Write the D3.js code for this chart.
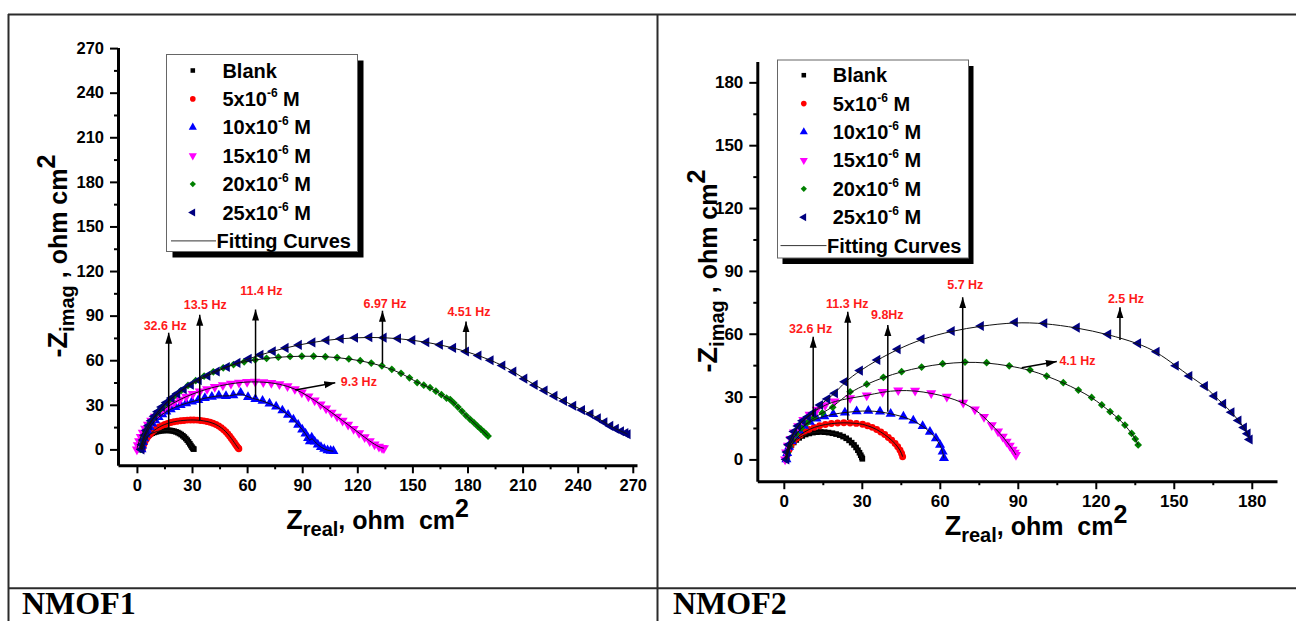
<!DOCTYPE html>
<html><head><meta charset="utf-8">
<script src="https://cdn.jsdelivr.net/npm/d3@7"></script>
<style>
html,body{margin:0;padding:0;background:#fff;}
svg{display:block;}
text{font-family:Arial,"Liberation Sans",sans-serif;}
text.panel{font-family:"Liberation Serif","Times New Roman",serif;}
</style></head><body>
<svg id="c" width="1296" height="621"></svg>
<script>
// ---------------- DATA ----------------
const legendLabels = ["Blank","5x10","10x10","15x10","20x10","25x10"];
const legendHasExp = [false,true,true,true,true,true];
const fitLabel = "Fitting Curves";
const panelLabels = ["NMOF1","NMOF2"];

const xTicks1 = [0,30,60,90,120,150,180,210,240,270];
const yTicks1 = [0,30,60,90,120,150,180,210,240,270];
const xTicks2 = [0,30,60,90,120,150,180];
const yTicks2 = [0,30,60,90,120,150,180];

// NMOF1 (Zreal, -Zimag)
const n1_blank = [[1.5,0],[1.8,1.5],[2.2,3],[2.7,4.4],[3.3,5.7],[4,6.9],[4.8,7.9],[5.6,8.8],[6.5,9.6],[7.4,10.3],[8.3,10.9],[9.3,11.4],[10.3,11.8],[11.3,12.1],[12.3,12.4],[13.3,12.6],[14.3,12.7],[15.3,12.8],[16.3,12.8],[17.3,12.8],[18.3,12.7],[19.3,12.5],[20.3,12.2],[21.3,11.8],[22.3,11.3],[23.2,10.7],[24.1,10],[25,9.2],[25.8,8.3],[26.6,7.3],[27.4,6.2],[28.1,5],[28.8,3.8],[29.4,2.6],[30,1.5],[30.5,0.6],[31,0.2]];
const n1_5 = [[3,0],[3.3,1.8],[3.8,3.6],[4.4,5.3],[5.2,7],[6.1,8.6],[7.1,10.1],[8.2,11.5],[9.4,12.8],[10.7,14],[12.1,15],[13.6,16],[15.2,16.8],[16.8,17.5],[18.5,18.1],[20.2,18.6],[22,19],[23.8,19.3],[25.6,19.5],[27.4,19.7],[29.2,19.8],[31,19.8],[32.8,19.7],[34.6,19.5],[36.4,19.2],[38.1,18.8],[39.8,18.3],[41.4,17.6],[43,16.8],[44.5,15.8],[45.9,14.6],[47.2,13.3],[48.4,11.9],[49.5,10.4],[50.5,8.9],[51.4,7.4],[52.3,5.9],[53.1,4.5],[53.8,3.2],[54.5,2],[55.1,1],[55.5,0.4]];
const n1_10 = [[2.5,0],[2.8,2.5],[3.3,5],[4,7.5],[4.8,10],[5.8,12.5],[7,15],[8.4,17.4],[10,19.6],[11.8,21.7],[13.8,23.6],[16,25.4],[18.4,27],[21,28.5],[23.8,29.8],[26.8,31],[30,32.1],[33.4,33.2],[37,34.6],[40.8,35.3],[44.6,36.2],[48.5,35.8],[52.5,36.4],[56.5,38],[60.5,35.2],[64.5,33.9],[68.4,32.6],[72.2,30.9],[75.8,28.8],[79.2,26.2],[82.3,23.3],[85.2,20],[87.8,16.6],[90,13.4],[91.8,10.6],[93.2,7.6],[94.2,5.5],[95.2,8],[96.8,5.2],[98.5,3.2],[100.2,1.5],[102,0.3],[103.8,-0.6],[105.5,-1],[107,-1.2]];
const n1_15 = [[0,0],[0.5,2.8],[1.2,5.6],[2.1,8.4],[3.2,11.2],[4.5,14],[6,16.7],[7.8,19.4],[9.8,22],[12,24.5],[14.5,26.9],[17.2,29.2],[20.2,31.4],[23.4,33.5],[26.8,35.5],[30.4,37.3],[34.2,39],[38.2,40.6],[42.4,42],[46.8,43.2],[51.2,44.2],[55.6,44.9],[60,45.4],[64.4,45.5],[68.8,45.3],[73.2,44.8],[77.6,43.9],[82,42.5],[86,40.6],[89.8,38.3],[93.4,35.7],[96.8,33],[100,30.2],[103,27.5],[106,24.8],[109,22.1],[112,19.4],[115,16.6],[118,13.8],[121,11],[124,8.2],[126.8,5.6],[129.4,3.4],[131.8,1.8],[133.5,1],[134.5,0.8]];
const n1_20 = [[2,0],[2.4,3],[3,6],[3.8,9],[4.8,12],[6,15],[7.4,18],[9,21],[10.8,24],[12.8,27],[15,30],[17.6,33],[20.6,36.2],[24,39.6],[27.8,43],[32,46.2],[36.6,49.3],[41.6,52.2],[47,54.9],[52.6,57.1],[58.4,58.9],[64.4,60.3],[70.6,61.3],[77,62],[83.4,62.5],[89.8,62.7],[96.2,62.7],[102.6,62.4],[109,61.8],[115.4,60.9],[121.6,59.7],[127.6,58.1],[133.4,56.2],[138.8,53.9],[143.8,51.2],[148.4,48.2],[152.6,45],[156.2,43.2],[159.6,41.5],[162.8,39.2],[165.8,36.8],[168.6,34.5],[170.6,33.5],[172.6,31.2],[174.8,28.5],[177,25.6],[179.2,22.8],[181.4,20.2],[183.5,18],[185.5,15.6],[187.3,13.6],[188.9,11.8],[190.2,10.2],[191.2,9]];
const n1_25 = [[2.5,0],[2.9,3.2],[3.5,6.4],[4.3,9.6],[5.3,12.8],[6.5,16],[7.9,19.2],[9.5,22.3],[11.4,25.4],[13.6,28.5],[16.1,31.5],[18.9,34.5],[22,37.5],[25.5,40.5],[29.4,43.5],[33.7,46.5],[38.4,49.5],[43.5,52.4],[49,55.4],[54.8,58.2],[60.9,61],[67.3,63.6],[74,66],[81,68.3],[88.2,70.3],[95.6,72],[103.2,73.4],[111,74.5],[118.8,75.1],[126.6,75.4],[134.4,75.2],[142.2,74.6],[150,73.5],[157.6,72.1],[165,70.4],[172.2,68.3],[179.2,65.9],[186,63.2],[192.6,60],[199,56.5],[205,52.3],[211,47.6],[216.6,43.4],[222,39.6],[227.4,36],[232.6,32.6],[237.6,29.4],[242.4,26.5],[247,23.8],[251,21],[254.6,18.3],[257.8,15.8],[260.8,13.9],[263.6,12.2],[266,11],[267.2,10.2]];

// NMOF2
const n2_blank = [[1,0],[1.2,1.8],[1.6,3.6],[2.2,5.3],[2.9,6.8],[3.8,8.1],[4.8,9.3],[5.9,10.3],[7.1,11.2],[8.4,11.9],[9.8,12.4],[11.2,12.8],[12.7,13],[14.2,13.1],[15.7,13],[17.2,12.8],[18.7,12.5],[20.1,12.1],[21.5,11.6],[22.8,10.9],[24,10.1],[25.1,9.1],[26.1,8],[27,6.9],[27.8,5.7],[28.5,4.4],[29.1,3.2],[29.6,2],[30,1],[30.2,0.3]];
const n2_5 = [[1,0],[1.3,2.2],[1.9,4.4],[2.7,6.5],[3.7,8.4],[4.9,10.1],[6.3,11.7],[7.9,13.1],[9.7,14.3],[11.7,15.3],[13.8,16.1],[16,16.7],[18.3,17.1],[20.7,17.4],[23.1,17.5],[25.5,17.4],[27.9,17.2],[30.3,16.8],[32.2,16.1],[34,15.3],[35.7,14.3],[37.3,13.1],[38.8,11.9],[40.2,10.5],[41.5,9.1],[42.8,7.6],[43.8,6],[44.7,4.4],[45.3,2.8],[45.7,1.3]];
const n2_10 = [[1,0],[1.3,3],[2,6],[3,8.8],[4.3,11.4],[5.9,13.8],[7.8,16],[10,17.9],[12.6,19.5],[15.6,20.6],[19,21.6],[23.5,22.4],[28,23],[32.5,23.2],[37,22.8],[41.1,21.8],[46,20.4],[49.8,18.5],[53.4,15.9],[56.2,13.2],[58.5,10.1],[60.1,6.9],[61.1,3.7],[61.6,0.6]];
const n2_15 = [[0.5,0],[0.9,3.3],[1.6,6.6],[2.6,9.8],[3.9,12.9],[5.5,15.9],[7.5,18.8],[9.9,21.4],[12.7,23.8],[15.9,25.9],[19.5,27.7],[25.5,29.3],[31.9,30.5],[38,32.2],[44,33],[50.5,32.8],[56.7,31.6],[62.7,29.9],[69,27.1],[73.5,23.9],[77,20.3],[80,16.4],[82.4,13.4],[84.2,10.9],[85.7,8.5],[86.9,6.6],[88,4.7],[88.8,3.2],[89.3,2.1]];
const n2_20 = [[1,0],[1.4,3.2],[2.2,6.3],[3.3,9.3],[4.8,12.2],[6.7,14.9],[9,17.5],[11.6,19.9],[14.8,22.2],[18.8,24.9],[25.5,32.3],[31.9,35.9],[38.3,39.2],[45.3,41.9],[53,44.1],[61.1,45.7],[69.7,46.5],[78,46.2],[86.7,44.7],[94.7,42.7],[101.1,39.8],[107.5,36.6],[113.3,33.1],[118.4,29.6],[122.3,26],[125.5,22.8],[128.7,19.6],[131.2,16.4],[133.8,12.4],[135.2,9.8],[136.3,6.9]];
const n2_25 = [[1,0],[1.3,3.5],[1.9,7],[2.8,10.3],[4,13.3],[5.5,16],[7.3,18.4],[9.3,20.4],[11.3,22.2],[14,26],[16.8,28.8],[19.7,31.6],[23.5,37.1],[29.3,42.4],[36,47.5],[43.8,52.6],[53,57.5],[64.6,61.3],[75.8,63.7],[88.9,65.5],[100.2,65],[112.7,62.9],[124.8,59.7],[136.3,55.4],[143.4,51.4],[150.8,44.7],[156,39.8],[162,35],[165.6,30.3],[169,26.5],[172.2,22.5],[174.9,18.6],[177,15.2],[178.4,12.3],[179.2,9.5]];

// frequency annotations: label, arrow tail (x0,y0) -> head (x1,y1), text position (tx,ty), text anchor
const ann1 = [
  {t:"32.6 Hz", x0:17.3, y0:13, x1:17.3, y1:78.5, tx:15.4, ty:83.4, a:"middle"},
  {t:"13.5 Hz", x0:34.2, y0:19.5, x1:34.2, y1:90.6, tx:37.2, ty:97.3, a:"middle"},
  {t:"11.4 Hz", x0:64.6, y0:35, x1:64.6, y1:94.1, tx:67.8, ty:106.6, a:"middle"},
  {t:"6.97 Hz", x0:133.7, y0:57.5, x1:133.7, y1:93.3, tx:135.1, ty:98.4, a:"middle"},
  {t:"4.51 Hz", x0:179.2, y0:65, x1:179.2, y1:86.1, tx:180.8, ty:93, a:"middle"},
  {t:"9.3 Hz", x0:86.2, y0:40, x1:108, y1:44.8, tx:111, ty:45.8, a:"start"}
];
const ann2 = [
  {t:"32.6 Hz", x0:11.3, y0:20.4, x1:11.3, y1:58.6, tx:10.3, ty:62.3, a:"middle"},
  {t:"11.3 Hz", x0:24.6, y0:18.8, x1:24.6, y1:70.5, tx:24.4, ty:74.5, a:"middle"},
  {t:"9.8Hz", x0:40, y0:22.8, x1:40, y1:64.2, tx:39.8, ty:69, a:"middle"},
  {t:"5.7 Hz", x0:68.8, y0:26.8, x1:68.8, y1:77.4, tx:69.8, ty:83.3, a:"middle"},
  {t:"2.5 Hz", x0:129.3, y0:57, x1:129.3, y1:72.6, tx:131.6, ty:76.6, a:"middle"},
  {t:"4.1 Hz", x0:91.5, y0:43.8, x1:105, y1:46.7, tx:106, ty:47.1, a:"start"}
];

// ---------------- STYLE / LAYOUT ----------------
const COLORS = ["#000000","#ff0000","#0000ff","#ff00ff","#008000","#000080"];
const SYMS = ["square","circle","triUp","triDown","diamond","triLeft"];

const panels = [
  { series:[n1_blank,n1_5,n1_10,n1_15,n1_20,n1_25], ann:ann1,
    xDom:[-10.3,272.3], xRange:[118,637], yDom:[-10.7,270.4], yRange:[465.3,47.5],
    xTicks:xTicks1, yTicks:yTicks1, tickFont:16.5,
    legend:{x:166.5,y:54.5,w:191,h:197,sx:6,sy:6,mx:192.8,tx:222.4,row0:70.5,dy:28.4,lx0:171,lx1:216},
    xTitle:{x:377.6,y:529}, yTitle:{x:67,y:256},
    label:{x:22,y:614,t:panelLabels[0]} },
  { series:[n2_blank,n2_5,n2_10,n2_15,n2_20,n2_25], ann:ann2,
    xDom:[-10.2,189.7], xRange:[757.3,1277], yDom:[-10.4,190], yRange:[481.2,61.4],
    xTicks:xTicks2, yTicks:yTicks2, tickFont:17,
    legend:{x:777.5,y:60,w:191,h:198,sx:5,sy:6,mx:803.8,tx:832.7,row0:75.2,dy:28.4,lx0:780.5,lx1:826.5},
    xTitle:{x:1036,y:535}, yTitle:{x:717,y:271},
    label:{x:673,y:614,t:panelLabels[1]} }
];

const svg = d3.select("#c");

// page frame
const frame = svg.append("g").attr("stroke","#2b2b2b").attr("stroke-width",2);
frame.append("line").attr("x1",8).attr("x2",1296).attr("y1",14.5).attr("y2",14.5);
frame.append("line").attr("x1",8.5).attr("x2",8.5).attr("y1",14).attr("y2",621);
frame.append("line").attr("x1",657.5).attr("x2",657.5).attr("y1",14).attr("y2",621);
frame.append("line").attr("x1",8).attr("x2",1296).attr("y1",588.3).attr("y2",588.3);

// arrow marker
svg.append("defs").append("marker").attr("id","arr")
  .attr("markerUnits","userSpaceOnUse").attr("markerWidth",12).attr("markerHeight",8)
  .attr("refX",11).attr("refY",4).attr("orient","auto")
  .append("path").attr("d","M0,0.5 L11,4 L0,7.5 Z").attr("fill","#000");

function symPath(type, size){
  let s;
  if(type==="square") s=d3.symbolSquare;
  else if(type==="circle") s=d3.symbolCircle;
  else if(type==="diamond") s=d3.symbolSquare;
  else s=d3.symbolTriangle;
  return d3.symbol(s,size)();
}
function symRot(type){
  return type==="triDown"?180:type==="triLeft"?-90:type==="diamond"?45:0;
}
function symSize(type){
  return type==="square"?32:type==="circle"?38:type==="diamond"?30:44;
}

panels.forEach(p=>{
  const x = d3.scaleLinear().domain(p.xDom).range(p.xRange);
  const y = d3.scaleLinear().domain(p.yDom).range(p.yRange);
  const g = svg.append("g");

  // axes
  const minorX = d3.range(p.xTicks[0]+15, p.xTicks[p.xTicks.length-1], 30);
  const minorY = d3.range(p.yTicks[0]+15, p.yTicks[p.yTicks.length-1], 30);
  const y0 = p.yRange[0], x0 = p.xRange[0];

  const gxm = g.append("g").attr("transform",`translate(0,${y0})`)
    .call(d3.axisBottom(x).tickValues(minorX).tickSize(4).tickFormat("").tickSizeOuter(0));
  const gym = g.append("g").attr("transform",`translate(${x0},0)`)
    .call(d3.axisLeft(y).tickValues(minorY).tickSize(4).tickFormat("").tickSizeOuter(0));
  const gx = g.append("g").attr("transform",`translate(0,${y0})`)
    .call(d3.axisBottom(x).tickValues(p.xTicks).tickSize(8).tickPadding(6).tickSizeOuter(0));
  const gy = g.append("g").attr("transform",`translate(${x0},0)`)
    .call(d3.axisLeft(y).tickValues(p.yTicks).tickSize(8).tickPadding(6).tickSizeOuter(0));
  [gx,gy,gxm,gym].forEach(a=>{
    a.select(".domain").attr("stroke","#000").attr("stroke-width",3);
    a.selectAll(".tick line").attr("stroke","#000").attr("stroke-width",2);
    a.selectAll(".tick text").attr("fill","#000").attr("font-size",p.tickFont)
      .attr("font-weight","bold");
  });
  gxm.select(".domain").remove(); gym.select(".domain").remove();

  // data markers
  p.series.forEach((data,i)=>{
    const t = SYMS[i];
    const d = symPath(t, symSize(t)), r = symRot(t);
    g.append("g").selectAll("path").data(data).join("path")
      .attr("d",d).attr("fill",COLORS[i])
      .attr("transform",v=>`translate(${x(v[0])},${y(v[1])}) rotate(${r})`);
  });
  // fitting curves
  const line = d3.line().x(v=>x(v[0])).y(v=>y(v[1])).curve(d3.curveBasis);
  p.series.forEach(data=>{
    g.append("path").attr("d",line(data)).attr("fill","none")
      .attr("stroke","#111").attr("stroke-width",1);
  });

  // annotations
  p.ann.forEach(a=>{
    g.append("line").attr("x1",x(a.x0)).attr("y1",y(a.y0)).attr("x2",x(a.x1)).attr("y2",y(a.y1))
      .attr("stroke","#000").attr("stroke-width",1.5).attr("marker-end","url(#arr)");
    g.append("text").attr("x",x(a.tx)).attr("y",y(a.ty)).attr("dy","0.36em")
      .attr("text-anchor",a.a).attr("font-size",12.5).attr("font-weight","bold")
      .attr("fill","#ff1a1a").text(a.t);
  });

  // legend
  const L = p.legend;
  g.append("rect").attr("x",L.x+L.sx).attr("y",L.y+L.sy).attr("width",L.w).attr("height",L.h).attr("fill","#000");
  g.append("rect").attr("x",L.x).attr("y",L.y).attr("width",L.w).attr("height",L.h)
    .attr("fill","#fff").attr("stroke","#666").attr("stroke-width",1);
  legendLabels.forEach((lab,i)=>{
    const cy = L.row0 + i*L.dy;
    const t = SYMS[i];
    g.append("path").attr("d",symPath(t, symSize(t)*0.65)).attr("fill",COLORS[i])
      .attr("transform",`translate(${L.mx},${cy}) rotate(${symRot(t)})`);
    const tx = g.append("text").attr("x",L.tx).attr("y",cy+7).attr("font-size",20)
      .attr("font-weight","bold").attr("fill","#000");
    tx.append("tspan").text(lab);
    if(legendHasExp[i]){
      tx.append("tspan").attr("font-size",12).attr("dy",-9).text("-6");
      tx.append("tspan").attr("dy",9).text(" M");
    }
  });
  const fy = L.row0 + 6*L.dy;
  g.append("line").attr("x1",L.lx0).attr("x2",L.lx1).attr("y1",fy).attr("y2",fy)
    .attr("stroke","#333").attr("stroke-width",1);
  g.append("text").attr("x",L.lx1+0.5).attr("y",fy+7).attr("font-size",20)
    .attr("font-weight","bold").attr("fill","#000").text(fitLabel);

  // axis titles
  const xt = g.append("text").attr("x",p.xTitle.x).attr("y",p.xTitle.y).attr("text-anchor","middle")
    .attr("font-weight","bold").attr("fill","#000");
  xt.append("tspan").attr("font-size",27).text("Z");
  xt.append("tspan").attr("font-size",20).attr("dy",7).text("real");
  xt.append("tspan").attr("font-size",25).attr("dy",-7).text(", ohm\u00a0 cm");
  xt.append("tspan").attr("font-size",25).attr("dy",-12).text("2");

  const yt = g.append("text").attr("transform",`translate(${p.yTitle.x},${p.yTitle.y}) rotate(-90)`)
    .attr("text-anchor","middle").attr("font-weight","bold").attr("fill","#000");
  yt.append("tspan").attr("font-size",27).text("-Z");
  yt.append("tspan").attr("font-size",20).attr("dy",7).text("imag");
  yt.append("tspan").attr("font-size",25).attr("dy",-7).text(" , ohm cm");
  yt.append("tspan").attr("font-size",25).attr("dy",-12).text("2");

  // panel label
  svg.append("text").attr("class","panel").attr("x",p.label.x).attr("y",p.label.y)
    .attr("font-weight","bold").attr("font-size",32).attr("fill","#000").text(p.label.t);
});
</script>
</body></html>
